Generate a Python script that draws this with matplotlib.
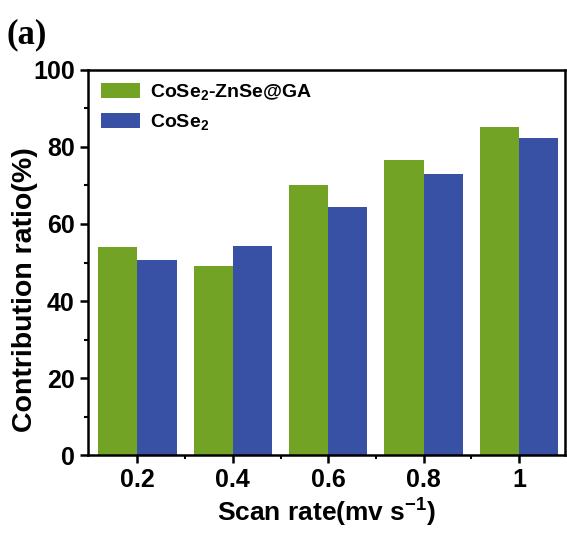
import numpy as np
import matplotlib
matplotlib.use("Agg")
import matplotlib.pyplot as plt
from matplotlib.ticker import MultipleLocator, FixedLocator

rates = ["0.2", "0.4", "0.6", "0.8", "1"]
composite = [54.0, 49.2, 70.0, 76.5, 85.1]     # CoSe2-ZnSe@GA
bare = [50.7, 54.4, 64.4, 72.9, 82.3]          # CoSe2

plt.rcParams["font.family"] = ["Liberation Sans", "DejaVu Sans"]
plt.rcParams["font.weight"] = "bold"
plt.rcParams["mathtext.fontset"] = "custom"
plt.rcParams["mathtext.bf"] = "Liberation Sans:bold"
plt.rcParams["mathtext.rm"] = "Liberation Sans:bold"

fig = plt.figure(figsize=(5.67, 5.33), dpi=100)
ax = fig.add_axes([0.155, 0.146, 0.841, 0.723])

x = np.arange(len(rates))
w = 0.41
ax.bar(x - w / 2, composite, w, color="#72A324", label="CoSe$_\\mathbf{2}$-ZnSe@GA")
ax.bar(x + w / 2, bare, w, color="#3951A4", label="CoSe$_\\mathbf{2}$")

ax.set_xlim(-0.52, 4.48)
ax.set_ylim(0, 100)
ax.set_xticks(x)
ax.set_xticklabels(rates)
ax.xaxis.set_minor_locator(FixedLocator(x[:-1] + 0.5))
ax.yaxis.set_major_locator(MultipleLocator(20))
ax.yaxis.set_minor_locator(MultipleLocator(10))

for s in ax.spines.values():
    s.set_linewidth(1.8)
ax.tick_params(which="major", direction="out", length=6, width=1.8, labelsize=18)
ax.tick_params(which="minor", direction="out", length=3, width=1.5)

ax.set_xlabel("Scan rate(mv s$^{\\mathbf{-1}}$)", fontsize=19, fontweight="bold", labelpad=2)
ax.set_ylabel("Contribution ratio(%)", fontsize=20.5, fontweight="bold")
ax.yaxis.set_label_coords(-0.105, 0.43)

ax.legend(loc="upper left", frameon=False, handlelength=2.05,
          handleheight=0.8, borderaxespad=0.25, labelspacing=0.5, handletextpad=0.5,
          prop={"weight": "bold", "size": 14})

fig.text(0.012, 0.918, "(a)", fontsize=25, fontweight="bold",
         family=["Liberation Serif", "DejaVu Serif"])

fig.savefig("out.png", dpi=100)
